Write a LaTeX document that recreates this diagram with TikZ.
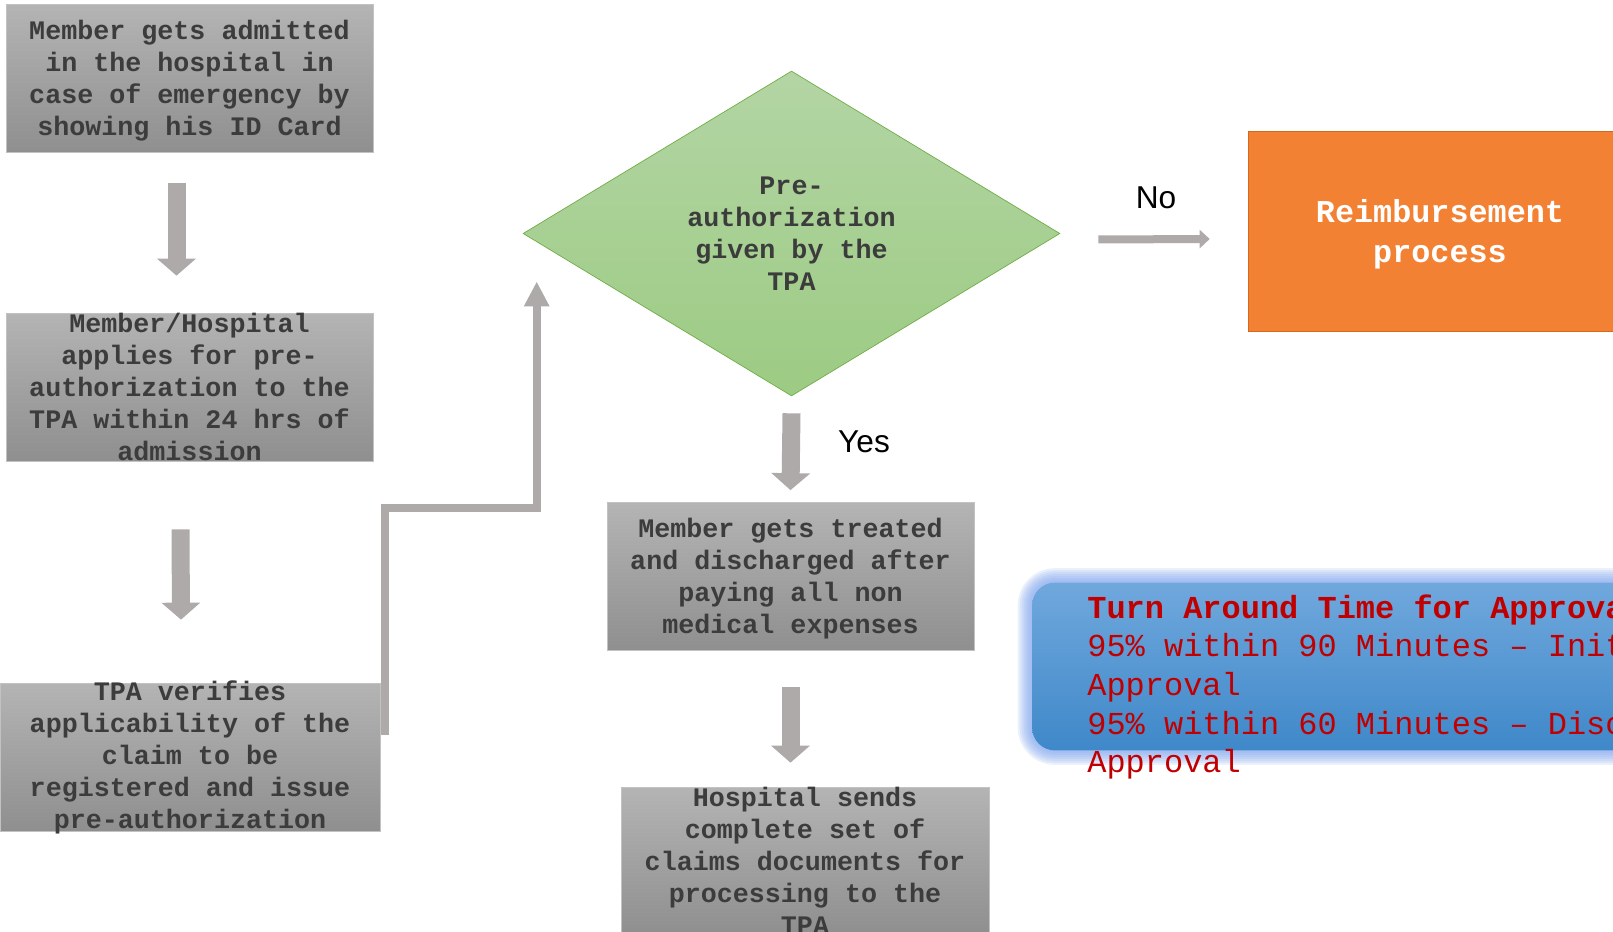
\documentclass[tikz,border=0pt]{standalone}
\usepackage{fontspec}
\setmainfont{Liberation Sans}
\setmonofont{Liberation Mono}
\usetikzlibrary{shapes.geometric,arrows.meta,calc,backgrounds}

\definecolor{boxtop}{HTML}{B4B4B4}
\definecolor{boxbot}{HTML}{8F8F8F}
\definecolor{boxline}{HTML}{C2C2C2}
\definecolor{boxtext}{HTML}{3C3C3C}
\definecolor{flowgray}{HTML}{AEAAAA}
\definecolor{diatop}{HTML}{B3D5A4}
\definecolor{diabot}{HTML}{9CCB83}
\definecolor{dialine}{HTML}{70AD47}
\definecolor{reimbfill}{HTML}{F38133}
\definecolor{reimbline}{HTML}{D2691E}
\definecolor{tattop}{HTML}{70A8DD}
\definecolor{tatbot}{HTML}{3F88C9}
\definecolor{tatglow}{HTML}{7FA4EC}
\definecolor{tattext}{HTML}{C00000}

\tikzset{
  grayblock/.style={rectangle, draw=boxline, top color=boxtop, bottom color=boxbot,
    minimum width=7.34cm, minimum height=2.96cm, inner sep=0pt},
  blocktext/.style={align=center, text=boxtext, inner sep=0pt,
    font=\ttfamily\bfseries\fontsize{15.2}{18.2}\selectfont},
  downarrow/.style={draw=flowgray, line width=0.36cm,
    -{Triangle[width=0.76cm,length=0.34cm]}},
  thinarrow/.style={draw=flowgray, line width=0.16cm,
    -{Triangle[width=0.48cm,length=0.5cm]}},
  noarrow/.style={draw=flowgray, line width=0.16cm,
    -{Triangle[width=0.36cm,length=0.2cm]}},
  answer/.style={font=\fontsize{18}{21}\selectfont, inner sep=0pt}
}

\begin{document}
\begin{tikzpicture}[x=0.02cm, y=-0.02cm]
\useasboundingbox (0,0) rectangle (1613,932);
\clip (0,0) rectangle (1613,932);

% left column
\node[grayblock] (admit) at (189.5,78.5) {};
\node[blocktext] at ($(admit)+(0,2)$) {Member gets admitted\\in the hospital in\\case of emergency by\\showing his ID Card};

\node[grayblock] (apply) at (189.5,387) {};
\node[blocktext] at (apply) {Member/Hospital\\applies for pre-\\authorization to the\\TPA within 24 hrs of\\admission};

\node[grayblock, minimum width=7.6cm] (verify) at (190,757) {};
\node[blocktext] at (verify) {TPA verifies\\applicability of the\\claim to be\\registered and issue\\pre-authorization};

\draw[downarrow] ($(admit.south)+(-13,30)$) -- ($(apply.north)+(-13,-37)$);
\draw[downarrow] ($(apply.south)+(-9,68)$) -- ($(verify.north)+(-9,-63)$);

% decision
\node[diamond, aspect=1.65, draw=dialine, top color=diatop, bottom color=diabot,
  minimum width=10.74cm, minimum height=6.5cm, inner sep=0pt,
  align=center, text=boxtext, font=\ttfamily\bfseries\fontsize{15.2}{18.2}\selectfont]
  (preauth) at (791.5,233.5) {Pre-\\authorization\\given by the\\TPA};

\coordinate (loopstart) at ($(verify.east)+(4.5,-22)$);
\draw[thinarrow] (loopstart) -- ++(0,-227) -| ($(preauth.west)+(14,48)$);

% no branch
\node[rectangle, draw=reimbline, fill=reimbfill, minimum width=7.68cm, minimum height=4cm,
  align=center, text=white, font=\ttfamily\bfseries\fontsize{18.1}{22.8}\selectfont]
  (reimb) at (1440,231) {};
\node[align=center, text=white, inner sep=0pt,
  font=\ttfamily\bfseries\fontsize{18.1}{22.8}\selectfont]
  at ($(reimb)+(0,3)$) {Reimbursement\\process};
\draw[noarrow] ($(preauth.east)+(38,6)$) -- ($(reimb.west)+(-38,8)$);
\node[answer] (nolabel) at (1156,198) {No};

% yes branch
\node[grayblock, minimum width=7.34cm] (treat) at (790.5,576.5) {};
\node[blocktext] at ($(treat)+(0,2)$) {Member gets treated\\and discharged after\\paying all non\\medical expenses};
\draw[downarrow] ($(preauth.south)+(0,17)$) -- ($(treat.north)+(0,-12)$);
\node[answer] (yeslabel) at (864,442) {Yes};

\node[grayblock, minimum width=7.36cm] (docs) at (805,861) {};
\node[blocktext] at (docs) {Hospital sends\\complete set of\\claims documents for\\processing to the\\TPA};
\draw[downarrow] ($(treat.south)+(0,36)$) -- ($(treat.south |- docs.north)+(0,-24)$);

% turn around time
\node[rectangle, rounded corners=0.46cm, top color=tattop, bottom color=tatbot,
  minimum width=14cm, minimum height=3.36cm] (tat) at (1382,666.5) {};
\begin{scope}[on background layer]
\foreach \w in {4,8,...,28}
  \draw[tatglow, line width=\w*0.02cm, opacity=0.16, rounded corners=0.46cm]
    (tat.north west) rectangle (tat.south east);
\end{scope}
\node[anchor=west, align=left, text=tattext, inner sep=0pt,
  font=\ttfamily\fontsize{18.2}{22}\selectfont]
  (tattext) at (1087,687) {\textbf{Turn Around Time for Approval}\\95\% within 90 Minutes \textendash{} Initial\\Approval\\95\% within 60 Minutes \textendash{} Discharge\\Approval};

\end{tikzpicture}
\end{document}
